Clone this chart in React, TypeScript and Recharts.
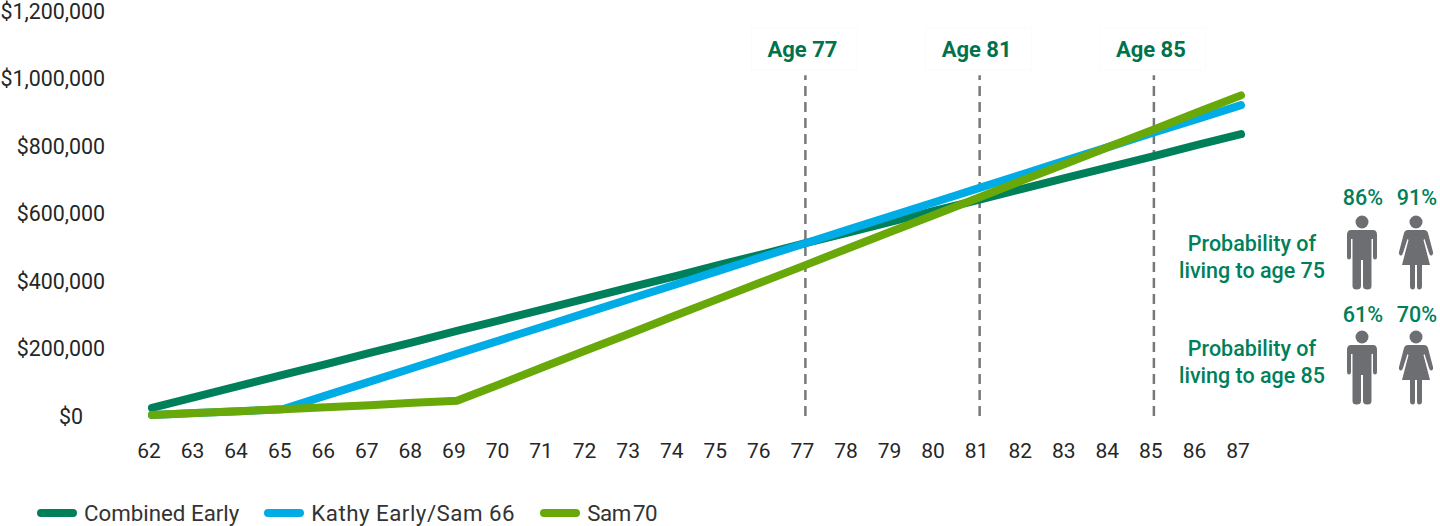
import {
  Legend,
  Line,
  LineChart,
  ReferenceLine,
  XAxis,
  YAxis,
} from "recharts";

const ages = [62, 63, 64, 65, 66, 67, 68, 69, 70, 71, 72, 73, 74, 75, 76, 77, 78, 79, 80, 81, 82, 83, 84, 85, 86, 87];
const combinedEarly = [24, 57, 89, 122, 154, 187, 219, 252, 284, 317, 349, 382, 414, 447, 479, 512, 544, 577, 609, 641, 674, 706, 738, 770, 803, 835];
const kathyEarly = [3, 9, 14, 20, 61, 102, 143, 184, 225, 266, 307, 348, 389, 430, 471, 512, 553, 594, 635, 676, 717, 758, 799, 840, 880, 921];
const sam70 = [3, 9, 14, 20, 26, 32, 39, 45, 95, 146, 196, 246, 297, 347, 397, 447, 498, 548, 598, 648, 699, 749, 799, 849, 900, 950];
const yTicks = [0, 200000, 400000, 600000, 800000, 1000000, 1200000];
const markerAges = [77, 81, 85];
const probabilityRows = [
  { label: ["Probability of", "living to age 75"], male: "86%", female: "91%" },
  { label: ["Probability of", "living to age 85"], male: "61%", female: "70%" },
];

// y offsets of the two probability rows
const labelTops = [231, 336];
const percentTops = [185, 302];
const iconTops = [215, 330];

const GREEN_TEXT = "#00805a";
const font = "Roboto, sans-serif";

const chartData = ages.map((age, i) => ({
  age,
  combined: combinedEarly[i] * 1000,
  kathy: kathyEarly[i] * 1000,
  sam: sam70[i] * 1000,
}));

function AgeLabel({ viewBox, age }: any) {
  const x = viewBox.x;
  return (
    <g>
      <rect x={x - 54} y={28} width={106} height={42} fill="#fff" stroke="#fbfbfb" />
      <text x={x - 3} y={57} textAnchor="middle" fontFamily={font} fontSize={22} fontWeight={700} fill="#00734d">
        Age {age}
      </text>
    </g>
  );
}

// the $0 label sits further left than the others in the original
function YTick({ x, y, payload }: any) {
  return (
    <text
      x={payload.value === 0 ? x - 22 : x}
      y={y}
      dy="0.355em"
      textAnchor="end"
      fontFamily={font}
      fontSize={21.4}
      fill="#262626"
    >
      {`$${Number(payload.value).toLocaleString("en-US")}`}
    </text>
  );
}

function LegendRow({ payload }: any) {
  return (
    <div style={{ display: "flex", fontFamily: font, fontSize: 22.3, color: "#333" }}>
      {(payload || []).map((entry: any, i: number) => (
        <div key={entry.value} style={{ display: "flex", alignItems: "center", marginRight: 25 }}>
          <span style={{ width: 40, height: 8, borderRadius: 4, background: entry.color, marginRight: 7 }} />
          <span style={{ letterSpacing: i === 1 ? 0.5 : i === 2 ? -0.4 : 0, wordSpacing: i === 2 ? -3 : 0 }}>{entry.value}</span>
        </div>
      ))}
    </div>
  );
}

function Male({ x, y }: { x: number; y: number }) {
  return (
    <svg style={{ position: "absolute", left: x, top: y }} width={32} height={76} viewBox="0 0 32 76">
      <circle cx={16} cy={7} r={6.5} fill="#6d6e71" />
      <path
        d="M5 15 H27 Q31 15 31 20 V42 Q31 44.500 29 44.500 Q27 44.500 27 42 V24 H25.500 V71 Q25.500 74.500 21.500 74.500 Q17 74.500 17 71 V45 H15 V71 Q15 74.500 10.500 74.500 Q6.500 74.500 6.500 71 V24 H5 V42 Q5 44.500 3 44.500 Q1 44.500 1 42 V20 Q1 15 5 15 Z"
        fill="#6d6e71"
      />
    </svg>
  );
}

function Female({ x, y }: { x: number; y: number }) {
  return (
    <svg style={{ position: "absolute", left: x, top: y }} width={36} height={76} viewBox="0 0 36 76">
      <circle cx={18} cy={7} r={6.500} fill="#6d6e71" />
      <path
        d="M10 15 H26 Q29 15 30 18 L35 37 Q35.500 40 33.500 40.500 Q32 41 31 38 L26.500 24 L25.500 25 L32 50 H24 V71 Q24 74.500 21 74.500 Q19 74.500 19 71 V50 H17 V71 Q17 74.500 15 74.500 Q12 74.500 12 71 V50 H4 L10.500 25 L9.500 24 L5 38 Q4 41 2.500 40.500 Q0.500 40 1 37 L6 18 Q7 15 10 15 Z"
        fill="#6d6e71"
      />
    </svg>
  );
}

export default function App() {
  return (
    <div style={{ position: "absolute", left: 0, top: 0, width: 1440, height: 526, background: "#fff", overflow: "hidden" }}>
      <LineChart
        width={1440}
        height={526}
        data={chartData}
        margin={{ left: 0, right: 190, top: 11, bottom: 54 }}
      >
        <XAxis
          dataKey="age"
          type="category"
          scale="point"
          interval={0}
          height={30}
          padding={{ left: 42, right: 9 }}
          axisLine={false}
          tickLine={false}
          tickMargin={21}
          tick={{ fill: "#262626", fontSize: 21, fontFamily: font, dx: -3 }}
        />
        <YAxis
          width={110}
          domain={[0, 1200000]}
          ticks={yTicks}
          interval={0}
          axisLine={false}
          tickLine={false}
          tickMargin={-1}
          tick={<YTick />}
        />
        {markerAges.map((age) => (
          <ReferenceLine
            key={age}
            segment={[
              { x: age, y: 0 },
              { x: age, y: 1010000 },
            ]}
            stroke="#77787b"
            strokeWidth={2.5}
            strokeDasharray="10 6"
            label={(props: any) => <AgeLabel {...props} age={age} />}
          />
        ))}
        <Line dataKey="combined" name="Combined Early" stroke="#00805a" strokeWidth={8} strokeLinecap="round" dot={false} type="linear" isAnimationActive={false} />
        <Line dataKey="kathy" name="Kathy Early/Sam 66" stroke="#00ace6" strokeWidth={8} strokeLinecap="round" dot={false} type="linear" isAnimationActive={false} />
        <Line dataKey="sam" name="Sam 70" stroke="#69a809" strokeWidth={8} strokeLinecap="round" dot={false} type="linear" isAnimationActive={false} />
        <Legend
          content={<LegendRow />}
          wrapperStyle={{ position: "absolute", left: 37, top: 500, width: 800, height: 26 }}
        />
      </LineChart>
      {probabilityRows.map((row, r) => (
        <div key={r} style={{ fontFamily: font, color: GREEN_TEXT, fontSize: 21.5, fontWeight: 500 }}>
          {row.label.map((line, i) => (
            <div
              key={line}
              style={{ position: "absolute", left: 1152, width: 200, top: labelTops[r] + i * 27, lineHeight: "26px", textAlign: "center" }}
            >
              {line}
            </div>
          ))}
          <div style={{ position: "absolute", left: 1333, width: 60, top: percentTops[r], lineHeight: "26px", textAlign: "center" }}>{row.male}</div>
          <div style={{ position: "absolute", left: 1387, width: 60, top: percentTops[r], lineHeight: "26px", textAlign: "center" }}>{row.female}</div>
          <Male x={1346} y={iconTops[r]} />
          <Female x={1398} y={iconTops[r]} />
        </div>
      ))}
    </div>
  );
}
